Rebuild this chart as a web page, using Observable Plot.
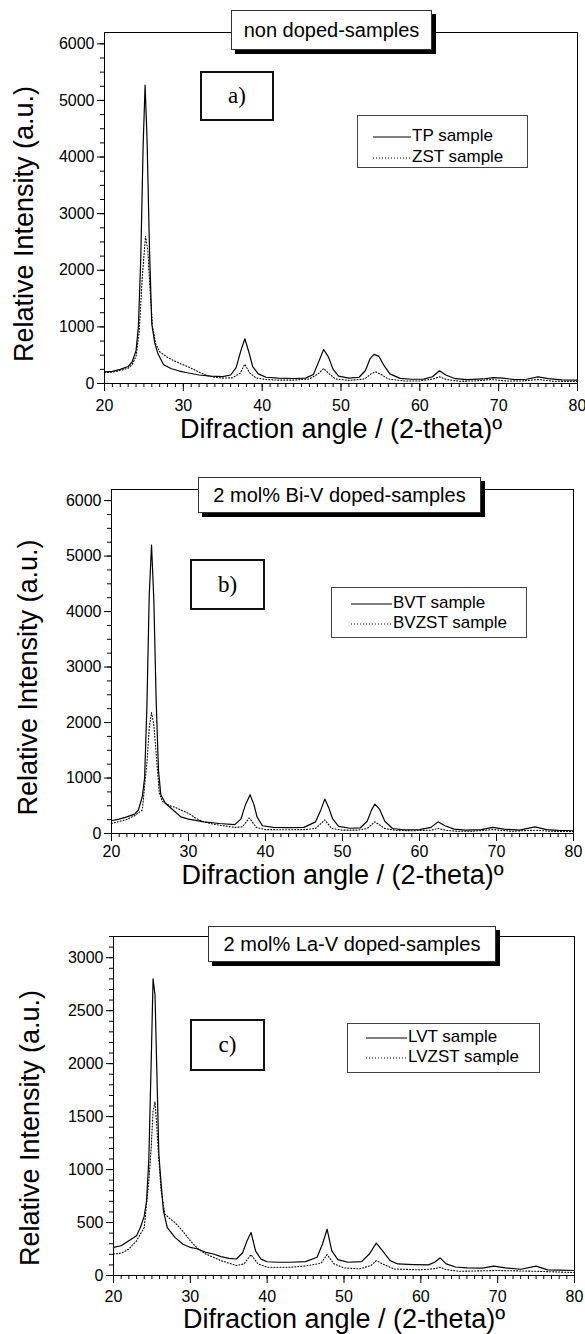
<!DOCTYPE html>
<html>
<head>
<meta charset="utf-8">
<script src="https://cdn.jsdelivr.net/npm/d3@7"></script>
<script src="https://cdn.jsdelivr.net/npm/@observablehq/plot@0.6"></script>
<style>
  html, body { margin: 0; padding: 0; background: #fff; }
  #page { position: relative; width: 585px; height: 1334px; overflow: hidden; font-family: "Liberation Sans", Arial, sans-serif; }
  .panel { position: absolute; left: 0; }
  .title { position: absolute; background: #fff; border: 1px solid #333; box-shadow: 4px 4px 0 #000; display: flex; align-items: center; justify-content: center; font-size: 20px; white-space: nowrap; box-sizing: border-box; }
  .letter { position: absolute; background: #fff; border: 2px solid #111; display: flex; align-items: center; justify-content: center; font-family: "Liberation Serif", "Times New Roman", serif; font-size: 23px; box-sizing: border-box; }
  .legend { position: absolute; background: #fff; border: 1px solid #444; box-sizing: border-box; font-size: 17px; }
  .legend .row { position: absolute; white-space: nowrap; line-height: 1; }
  .legend svg { position: absolute; overflow: visible; }
</style>
</head>
<body>
<div id="page"></div>
<script>
// ---------- text ----------
const panelTitles = ["non doped-samples", "2 mol% Bi-V doped-samples", "2 mol% La-V doped-samples"];
const panelLetters = ["a)", "b)", "c)"];
const solidNames = ["TP sample", "BVT sample", "LVT sample"];
const dottedNames = ["ZST sample", "BVZST sample", "LVZST sample"];
const xTitle = "Difraction angle / (2-theta)º";
const yTitle = "Relative Intensity (a.u.)";
const xMajorTicks = [20, 30, 40, 50, 60, 70, 80];
const yMajorTicksAB = [0, 1000, 2000, 3000, 4000, 5000, 6000];
const yMajorTicksC = [0, 500, 1000, 1500, 2000, 2500, 3000];

// ---------- panel a ----------
const tpAngle = [20, 21, 22, 23, 23.5, 24, 24.3, 24.6, 24.9, 25.15, 25.4, 25.7, 26, 26.4, 26.8, 27.5, 28.5, 29.5, 30.5, 32, 33.5, 35, 36, 36.7, 37.3, 37.8, 38.3, 38.8, 39.5, 40.5, 42, 44, 45.5, 46.5, 47.1, 47.8, 48.4, 49, 49.7, 51, 52.3, 53.1, 53.7, 54.2, 54.8, 55.4, 56.2, 57.5, 59, 60.5, 61.6, 62.5, 63.3, 64.5, 66, 68, 69.3, 70.5, 72, 73.5, 75, 76.3, 78, 80];
const tpInt = [205, 215, 250, 300, 380, 580, 1000, 2200, 4200, 5270, 4300, 2400, 1050, 700, 520, 330, 260, 220, 190, 150, 130, 120, 150, 280, 580, 790, 560, 300, 170, 110, 95, 88, 95, 160, 360, 600, 470, 250, 130, 95, 110, 230, 440, 515, 480, 330, 170, 90, 75, 78, 120, 225, 150, 85, 70, 80, 105, 95, 70, 75, 118, 85, 65, 58];
const zstAngle = [20, 21, 22, 23, 23.5, 24, 24.4, 24.8, 25.2, 25.5, 25.8, 26.1, 26.5, 27, 28, 29, 30, 31, 32, 33, 34, 35, 36.2, 37.2, 37.8, 38.4, 39.2, 40.5, 42, 44, 46, 47.1, 47.8, 48.5, 49.3, 51, 53, 53.8, 54.4, 55.2, 56, 58, 60, 61.7, 62.5, 63.4, 65, 67, 69, 71, 73, 75, 77, 80];
const zstInt = [190, 200, 230, 270, 330, 480, 900, 1900, 2600, 2350, 1600, 1000, 700, 560, 460, 390, 330, 270, 200, 140, 110, 95, 100, 180, 340, 190, 100, 70, 60, 60, 80, 170, 265, 170, 80, 55, 80, 170, 206, 150, 80, 45, 45, 80, 118, 70, 40, 45, 70, 45, 45, 70, 40, 35];

// ---------- panel b ----------
const bvtAngle = [20, 21, 22, 23, 23.5, 24, 24.3, 24.6, 24.9, 25.2, 25.5, 25.8, 26.1, 26.4, 27, 28, 29, 30, 32, 34, 36, 36.8, 37.4, 38, 38.5, 38.9, 39.6, 41, 43, 45, 46.5, 47.2, 47.7, 48.2, 48.7, 49.5, 51, 52.3, 53.2, 53.8, 54.2, 54.8, 55.5, 56.5, 58, 60, 61.5, 62.4, 63.3, 64.5, 66, 68, 69.5, 71, 73, 75, 76.5, 78, 80];
const bvtInt = [230, 260, 300, 350, 424, 667, 1000, 2300, 4300, 5200, 4200, 2400, 1150, 700, 545, 424, 300, 260, 210, 180, 160, 260, 520, 700, 520, 300, 140, 110, 105, 110, 210, 430, 620, 470, 270, 130, 95, 100, 220, 430, 530, 440, 220, 90, 65, 70, 110, 210, 140, 80, 60, 70, 110, 80, 60, 120, 70, 55, 50];
const bvzstAngle = [20, 21, 22, 23, 24, 24.6, 24.9, 25.2, 25.5, 25.8, 26.2, 26.6, 27, 27.6, 28.3, 29, 30, 31, 32, 33, 34, 36, 37, 37.9, 38.8, 40, 42.5, 45, 46.5, 47.7, 48.6, 50, 52, 53.2, 54.2, 55.5, 57, 59, 61.5, 62.4, 63.5, 65, 67, 69.5, 72, 75, 77, 80];
const bvzstInt = [180, 215, 255, 320, 424, 1270, 1900, 2180, 1950, 1450, 730, 580, 545, 500, 470, 424, 364, 270, 210, 175, 150, 110, 120, 280, 110, 70, 68, 70, 90, 245, 90, 60, 60, 90, 210, 90, 55, 50, 60, 90, 55, 40, 42, 70, 40, 60, 40, 35];

// ---------- panel c ----------
const lvtAngle = [20, 21, 22, 23, 23.5, 24, 24.3, 24.6, 24.9, 25.15, 25.4, 25.65, 25.9, 26.2, 26.5, 27, 28, 29, 30, 31, 32, 33, 34, 35, 36, 36.8, 37.4, 37.9, 38.5, 39.2, 40, 41.5, 43, 45, 46.5, 47.2, 47.8, 48.4, 49.2, 50.5, 52.3, 53.3, 54.2, 55, 56, 57, 59, 61, 61.8, 62.5, 63.3, 64.5, 66, 68, 69.5, 71, 73, 75, 76.5, 78, 80];
const lvtInt = [265, 281, 328, 375, 453, 560, 700, 1100, 2000, 2800, 2650, 1900, 1150, 860, 610, 453, 360, 297, 265, 250, 219, 203, 178, 162, 156, 215, 330, 406, 230, 155, 130, 125, 125, 131, 172, 297, 437, 234, 150, 125, 131, 203, 306, 234, 140, 109, 103, 100, 125, 166, 110, 80, 72, 69, 88, 72, 59, 88, 53, 50, 47];
const lvzstAngle = [20, 21, 22, 23, 24, 24.6, 24.9, 25.15, 25.4, 25.6, 25.8, 26.2, 26.7, 27.2, 28, 29, 30, 31, 32, 34, 36, 37, 37.9, 38.8, 40, 43, 45, 47, 47.8, 48.7, 50, 52, 53.5, 54.2, 55, 56.5, 60, 61.8, 62.5, 63.3, 65, 70, 75, 80];
const lvzstInt = [203, 210, 250, 328, 453, 890, 1200, 1550, 1640, 1450, 1200, 800, 580, 545, 500, 420, 328, 250, 203, 140, 94, 110, 197, 110, 78, 78, 90, 115, 197, 110, 72, 62, 94, 140, 110, 62, 53, 65, 78, 55, 40, 47, 40, 28];

// ---------- layout ----------
const panels = [
  {top: 0, height: 445, mt: 32, mb: 62, ml: 104, mr: 8, yMax: 6200, major: yMajorTicksAB, minorStep: 250, pad: 8,
   solid: [tpAngle, tpInt], dotted: [zstAngle, zstInt], xdy: 54, ydx: -80, ydy: 16,
   title: [231, 10, 201, 40], letter: [200, 71, 74, 50], legend: [357, 115, 171, 53, 16, 54, 11, 32]},
  {top: 445, height: 445, mt: 44, mb: 57, ml: 111, mr: 12, yMax: 6200, major: yMajorTicksAB, minorStep: 250, pad: 4,
   solid: [bvtAngle, bvtInt], dotted: [bvzstAngle, bvzstInt], xdy: 50, ydx: -83, ydy: 16,
   title: [198, 32, 283, 36], letter: [190, 114, 75, 51], legend: [331, 142, 196, 51, 20, 61, 6, 26]},
  {top: 890, height: 444, mt: 46, mb: 59, ml: 113, mr: 11, yMax: 3200, major: yMajorTicksC, minorStep: 100, pad: 7,
   solid: [lvtAngle, lvtInt], dotted: [lvzstAngle, lvzstInt], xdy: 52, ydx: -83, ydy: 22,
   title: [208, 36, 288, 36], letter: [190, 129, 75, 52], legend: [347, 133, 193, 50, 19, 60, 4, 24]}
];

const page = document.getElementById("page");

panels.forEach((p, i) => {
  const solidData = p.solid[0].map((a, k) => ({a, v: p.solid[1][k]}));
  const dottedData = p.dotted[0].map((a, k) => ({a, v: p.dotted[1][k]}));
  const minor = d3.range(0, p.yMax + 1, p.minorStep);
  const chart = Plot.plot({
    width: 585,
    height: p.height,
    marginTop: p.mt,
    marginBottom: p.mb,
    marginLeft: p.ml,
    marginRight: p.mr,
    style: {fontFamily: "'Liberation Sans', Arial, sans-serif", background: "transparent", color: "#000", overflow: "visible"},
    x: {domain: [20, 80]},
    y: {domain: [0, p.yMax]},
    marks: [
      Plot.frame({stroke: "#000", strokeWidth: 1}),
      Plot.axisX({ticks: d3.range(20, 81, 1), tickSize: 4, tickFormat: () => "", label: null, strokeWidth: 1}),
      Plot.axisX(xMajorTicks, {tickSize: 8, tickPadding: p.pad, fontSize: 16, label: null, tickFormat: d => String(d), strokeWidth: 1}),
      Plot.axisY({ticks: minor, tickSize: 4, tickFormat: () => "", label: null, strokeWidth: 1}),
      Plot.axisY(p.major, {tickSize: 7, tickPadding: 3, fontSize: 16, label: null, tickFormat: d => String(d), strokeWidth: 1}),
      Plot.line(dottedData, {x: "a", y: "v", stroke: "#000", strokeWidth: 1.1, strokeDasharray: "1,2"}),
      Plot.line(solidData, {x: "a", y: "v", stroke: "#000", strokeWidth: 1.2}),
      Plot.text([xTitle], {text: d => d, frameAnchor: "bottom", dy: p.xdy, fontSize: 27, fill: "#000"}),
      Plot.text([yTitle], {text: d => d, frameAnchor: "left", textAnchor: "middle", rotate: -90, dx: p.ydx, dy: p.ydy, fontSize: 27, fill: "#000"})
    ]
  });
  const wrap = document.createElement("div");
  wrap.className = "panel";
  wrap.style.top = p.top + "px";
  wrap.style.width = "585px";
  wrap.style.height = p.height + "px";
  wrap.appendChild(chart);
  page.appendChild(wrap);

  // title box
  const t = document.createElement("div");
  t.className = "title";
  const [tx, ty, tw, th] = p.title;
  Object.assign(t.style, {left: tx + "px", top: (p.top + ty) + "px", width: tw + "px", height: th + "px"});
  t.textContent = panelTitles[i];
  page.appendChild(t);

  // letter box
  const l = document.createElement("div");
  l.className = "letter";
  const [lx, ly, lw, lh] = p.letter;
  Object.assign(l.style, {left: lx + "px", top: (p.top + ly) + "px", width: lw + "px", height: lh + "px"});
  l.textContent = panelLetters[i];
  page.appendChild(l);

  // legend
  const [gx, gy, gw, gh, lineX, textX, row1, row2] = p.legend;
  const g = document.createElement("div");
  g.className = "legend";
  Object.assign(g.style, {left: gx + "px", top: (p.top + gy) + "px", width: gw + "px", height: gh + "px"});
  const rows = [[solidNames[i], null, row1], [dottedNames[i], "1,2", row2]];
  rows.forEach(([name, dash, ry]) => {
    const s = document.createElementNS("http://www.w3.org/2000/svg", "svg");
    s.setAttribute("width", 40); s.setAttribute("height", 4);
    s.style.left = (lineX - 1) + "px"; s.style.top = (ry + 8) + "px";
    const ln = document.createElementNS("http://www.w3.org/2000/svg", "line");
    ln.setAttribute("x1", 0); ln.setAttribute("x2", textX - lineX); ln.setAttribute("y1", 2); ln.setAttribute("y2", 2);
    ln.setAttribute("stroke", "#000"); ln.setAttribute("stroke-width", 1.1);
    if (dash) ln.setAttribute("stroke-dasharray", dash);
    s.appendChild(ln);
    g.appendChild(s);
    const r = document.createElement("div");
    r.className = "row";
    r.style.left = textX + "px"; r.style.top = ry + "px";
    r.textContent = name;
    g.appendChild(r);
  });
  page.appendChild(g);
});
</script>
</body>
</html>
